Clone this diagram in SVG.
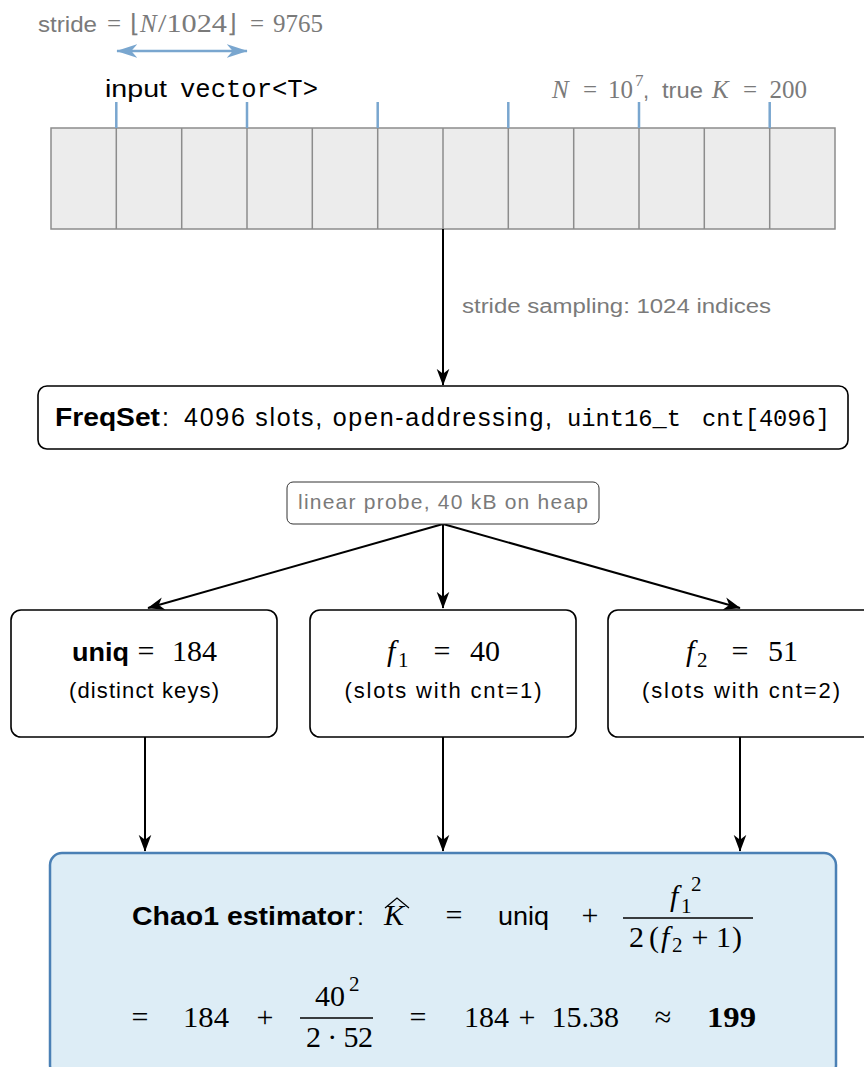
<svg xmlns="http://www.w3.org/2000/svg" width="864" height="1067" viewBox="0 0 864 1067">
<defs>
<marker id="ah" viewBox="0 0 12 10" refX="11.5" refY="5" markerUnits="userSpaceOnUse" markerWidth="17" markerHeight="14" orient="auto"><path d="M0,0.5 L12,5 L0,9.5 L3.5,5 z" fill="#000"/></marker>
<marker id="bh" viewBox="0 0 14 10" refX="13.5" refY="5" markerUnits="userSpaceOnUse" markerWidth="21" markerHeight="15" orient="auto-start-reverse"><path d="M0,0.5 L14,5 L0,9.5 L4,5 z" fill="#79a6cf"/></marker>
</defs>
<style>
.sans{font-family:"Liberation Sans",Arial,sans-serif}
.serif{font-family:"Liberation Serif","Times New Roman",serif}
.mono{font-family:"Liberation Mono","DejaVu Sans Mono",monospace}
.it{font-style:italic}
.b{font-weight:bold}
.grey{fill:#7a7a7a}
.mid{text-anchor:middle}
.end{text-anchor:end}
.box{fill:#fff;stroke:#000;stroke-width:1.6}
.cell{fill:none;stroke:#8c8c8c;stroke-width:1.5}
.tick{stroke:#79a6cf;stroke-width:2.5}
.conn{stroke:#000;stroke-width:2;fill:none;marker-end:url(#ah)}
.bar{stroke:#000;stroke-width:1.3}
.m{font-family:"Liberation Serif","Times New Roman",serif;font-size:30px}
.s{font-family:"Liberation Serif","Times New Roman",serif;font-size:21px}
</style>

<g id="stride-label" class="grey">
<text x="38" y="32" font-size="22" class="sans" textLength="59" lengthAdjust="spacingAndGlyphs">stride</text>
<text x="114" y="32" font-size="25" class="serif mid">=</text>
<text x="130" y="32" font-size="25" class="serif">⌊</text>
<text x="140" y="32" font-size="25" class="serif it">N</text>
<text x="158" y="32" font-size="25" class="serif" textLength="69" lengthAdjust="spacingAndGlyphs">/1024</text>
<text x="227" y="32" font-size="25" class="serif">⌋</text>
<text x="257" y="32" font-size="25" class="serif mid">=</text>
<text x="273" y="32" font-size="25" class="serif" textLength="50" lengthAdjust="spacingAndGlyphs">9765</text>
<line x1="117" y1="51" x2="247" y2="51" stroke="#79a6cf" stroke-width="2.5" marker-start="url(#bh)" marker-end="url(#bh)"/>
</g>

<g id="input-label">
<text x="105" y="97" font-size="23" class="sans" textLength="62" lengthAdjust="spacingAndGlyphs">input</text>
<text x="180" y="97" font-size="25" class="mono" textLength="138" lengthAdjust="spacingAndGlyphs">vector&lt;T&gt;</text>
</g>

<g id="n-label" class="grey">
<text x="552" y="98" font-size="25" class="serif it">N</text>
<text x="590" y="98" font-size="25" class="serif mid">=</text>
<text x="608" y="98" font-size="25" class="serif">10</text>
<text x="635" y="86" font-size="17" class="serif">7</text>
<text x="643" y="98" font-size="22" class="sans">,</text>
<text x="662" y="98" font-size="22" class="sans" textLength="41" lengthAdjust="spacingAndGlyphs">true</text>
<text x="712" y="98" font-size="25" class="serif it">K</text>
<text x="750" y="98" font-size="25" class="serif mid">=</text>
<text x="807" y="98" font-size="25" class="serif end">200</text>
</g>

<g id="array">
<rect x="51" y="128" width="784" height="101" fill="#ececec" stroke="#8c8c8c" stroke-width="1.5"/>
<path class="cell" d="M116.3,128V229M181.7,128V229M247,128V229M312.3,128V229M377.7,128V229M443,128V229M508.3,128V229M573.7,128V229M639,128V229M704.3,128V229M769.7,128V229"/>
<path class="tick" d="M116.3,102V128M247,102V128M377.7,102V128M508.3,102V128M639,102V128M769.7,102V128"/>
</g>

<g id="connectors">
<line class="conn" x1="443" y1="229" x2="443" y2="385"/>
<line class="conn" x1="443" y1="524" x2="148" y2="608"/>
<line class="conn" x1="443" y1="524" x2="443" y2="608"/>
<line class="conn" x1="443" y1="524" x2="740" y2="608"/>
<line class="conn" x1="145" y1="737" x2="145" y2="851"/>
<line class="conn" x1="443" y1="737" x2="443" y2="851"/>
<line class="conn" x1="740" y1="737" x2="740" y2="851"/>
<text x="462" y="313" font-size="20" class="sans grey" textLength="309" lengthAdjust="spacingAndGlyphs">stride sampling: 1024 indices</text>
</g>

<g id="freqset">
<rect class="box" x="38" y="386" width="810" height="63" rx="9"/>
<text x="55" y="426" font-size="25" class="sans b" textLength="105" lengthAdjust="spacingAndGlyphs">FreqSet</text>
<text x="162" y="426" font-size="25" class="sans">:</text>
<text x="184" y="426" font-size="25" class="sans" textLength="368" lengthAdjust="spacing">4096 slots, open-addressing,</text>
<text x="567" y="426" font-size="23.5" class="mono" textLength="114" lengthAdjust="spacingAndGlyphs">uint16_t</text>
<text x="702" y="426" font-size="23.5" class="mono" textLength="128" lengthAdjust="spacingAndGlyphs">cnt[4096]</text>
</g>

<g id="probe-label">
<rect x="287" y="482" width="312" height="42" rx="6" fill="#fff" stroke="#333" stroke-width="1"/>
<text x="298" y="509" font-size="21" class="sans grey" textLength="290" lengthAdjust="spacing">linear probe, 40 kB on heap</text>
</g>

<g id="uniq">
<rect class="box" x="11" y="610" width="266" height="127" rx="10"/>
<text x="72" y="661" font-size="25" class="sans b" textLength="57" lengthAdjust="spacingAndGlyphs">uniq</text>
<text x="146" y="661" class="m mid">=</text>
<text x="172" y="661" class="m" textLength="45" lengthAdjust="spacingAndGlyphs">184</text>
<text x="69" y="698" font-size="22" class="sans" textLength="150" lengthAdjust="spacing">(distinct keys)</text>
</g>

<g id="f1">
<rect class="box" x="310" y="610" width="266" height="127" rx="10"/>
<text x="387" y="661" class="m it">f</text>
<text x="398" y="667" class="s">1</text>
<text x="442" y="661" class="m mid">=</text>
<text x="500" y="661" class="m end">40</text>
<text x="443" y="698" font-size="22" class="sans mid" textLength="197" lengthAdjust="spacing">(slots with cnt=1)</text>
</g>

<g id="f2">
<rect class="box" x="608" y="610" width="266" height="127" rx="10"/>
<text x="686" y="661" class="m it">f</text>
<text x="697" y="667" class="s">2</text>
<text x="740" y="661" class="m mid">=</text>
<text x="798" y="661" class="m end">51</text>
<text x="741" y="698" font-size="22" class="sans mid" textLength="198" lengthAdjust="spacing">(slots with cnt=2)</text>
</g>

<g id="chao1">
<rect x="50" y="853" width="786" height="224" rx="12" fill="#ddedf6" stroke="#4a80b5" stroke-width="2.5"/>
<text x="132" y="925" font-size="25" class="sans b" textLength="223" lengthAdjust="spacingAndGlyphs">Chao1 estimator</text>
<text x="357" y="925" font-size="25" class="sans">:</text>
<text x="384" y="925" class="m it">K</text>
<path d="M385,908 L397,898 L409,908" fill="none" stroke="#000" stroke-width="1.3"/>
<text x="454" y="925" class="m mid">=</text>
<text x="498" y="925" font-size="25" class="sans" textLength="51" lengthAdjust="spacingAndGlyphs">uniq</text>
<text x="590" y="925" class="m mid">+</text>
<text x="670" y="906" class="m it">f</text>
<text x="681" y="913" class="s">1</text>
<text x="691" y="891" class="s">2</text>
<line class="bar" x1="623" y1="918" x2="753" y2="918"/>
<text x="629" y="947" class="m">2</text>
<text x="649" y="947" class="m">(</text>
<text x="661" y="947" class="m it">f</text>
<text x="672" y="952" class="s">2</text>
<text x="700" y="947" class="m mid">+</text>
<text x="716" y="947" class="m">1</text>
<text x="732" y="947" class="m">)</text>

<text x="140" y="1027" class="m mid">=</text>
<text x="183" y="1027" class="m" textLength="46" lengthAdjust="spacingAndGlyphs">184</text>
<text x="265" y="1027" class="m mid">+</text>
<text x="315" y="1006" class="m">40</text>
<text x="349" y="991" class="s">2</text>
<line class="bar" x1="300" y1="1018" x2="373" y2="1018"/>
<text x="306" y="1047" class="m" textLength="67" lengthAdjust="spacing">2 · 52</text>
<text x="418" y="1027" class="m mid">=</text>
<text x="464" y="1027" class="m">184</text>
<text x="527" y="1027" class="m mid">+</text>
<text x="619" y="1027" class="m end">15.38</text>
<text x="663" y="1027" class="m mid">≈</text>
<text x="707" y="1027" class="m b" textLength="49" lengthAdjust="spacingAndGlyphs">199</text>
</g>
</svg>
